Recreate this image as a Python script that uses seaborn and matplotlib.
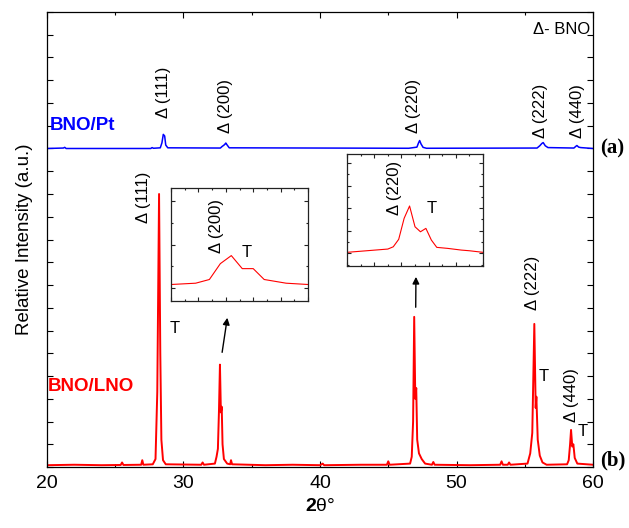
from __future__ import annotations

import matplotlib

matplotlib.use("Agg")

import matplotlib.pyplot as plt
import pandas as pd
import seaborn as sns
from matplotlib.ticker import MultipleLocator

OUTPUT_PATH = "out.png"

# main pattern, 2theta (deg) vs stacked intensity (arb. units)
LNO_TWO_THETA = [
    20.0, 22.0, 24.0, 25.4, 25.5, 25.6, 26.9, 26.98, 27.06,
    27.75, 27.95, 28.08, 28.21, 28.3, 28.38, 28.5, 28.7,
    31.3, 31.4, 31.5,
    32.3, 32.42, 32.52, 32.6, 32.67, 32.74, 32.8, 32.86, 32.96, 33.2, 33.42, 33.48, 33.56,
    36.0, 38.0, 40.0, 40.2, 40.3, 43.0, 44.9, 45.0, 45.1,
    46.6, 46.72, 46.82, 46.9, 46.98, 47.05, 47.12, 47.25, 47.45, 47.7,
    48.2, 48.3, 48.4, 51.0, 53.2, 53.3, 53.4, 53.75, 53.85, 53.95,
    55.2, 55.4, 55.55, 55.7, 55.8, 55.85, 55.95, 56.1, 56.3, 56.6,
    58.1, 58.22, 58.32, 58.39, 58.48, 58.56, 58.66, 58.85, 60.0,
]
LNO_INTENSITY = [
    0.08, 0.10, 0.08, 0.09, 0.20, 0.09, 0.10, 0.30, 0.10,
    0.12, 0.35, 3.3, 12.0, 5.0, 1.2, 0.3, 0.12,
    0.10, 0.20, 0.10,
    0.15, 0.45, 0.8, 2.5, 4.5, 2.4, 2.65, 1.0, 0.35, 0.15, 0.12, 0.30, 0.12,
    0.08, 0.10, 0.08, 0.15, 0.08, 0.10, 0.10, 0.25, 0.10,
    0.15, 0.45, 2.0, 6.6, 3.0, 3.47, 1.2, 0.6, 0.35, 0.15,
    0.10, 0.22, 0.10, 0.08, 0.10, 0.25, 0.10, 0.10, 0.20, 0.10,
    0.15, 0.6, 1.5, 6.29, 2.6, 3.09, 1.2, 0.5, 0.2, 0.1,
    0.12, 0.3, 1.0, 1.63, 0.9, 1.0, 0.4, 0.15, 0.10,
]

PT_TWO_THETA = [
    20.0, 21.2, 21.3, 21.4, 27.6, 27.7, 27.8, 28.3, 28.42, 28.52, 28.62, 28.7, 28.85,
    32.7, 32.85, 32.95, 33.05, 33.1, 33.2, 33.35,
    46.5, 47.1, 47.22, 47.3, 47.4, 47.55, 47.8,
    55.9, 56.1, 56.25, 56.35, 56.5, 56.7,
    58.6, 58.75, 58.82, 58.95, 59.1, 60.0,
]
PT_INTENSITY = [
    14.0, 14.02, 14.05, 14.0, 14.0, 14.04, 14.01, 14.03, 14.25, 14.62, 14.55, 14.15, 14.03,
    14.02, 14.1, 14.14, 14.2, 14.24, 14.15, 14.03,
    14.01, 14.06, 14.25, 14.35, 14.2, 14.05, 14.01,
    14.02, 14.12, 14.22, 14.26, 14.12, 14.04,
    14.02, 14.1, 14.13, 14.06, 14.04, 14.0,
]

# zoomed views of the LNO (200) and (220) reflections
INSET_200_TWO_THETA = [32.40, 32.49, 32.54, 32.58, 32.62, 32.66, 32.70, 32.74, 32.82, 32.90]
INSET_200_INTENSITY = [0.16, 0.22, 0.39, 1.12, 1.49, 0.89, 0.89, 0.39, 0.22, 0.16]

INSET_220_TWO_THETA = [
    46.60, 46.75, 46.77, 46.79, 46.81, 46.83, 46.85, 46.87,
    46.89, 46.91, 46.93, 46.97, 47.02, 47.05, 47.10,
]
INSET_220_INTENSITY = [
    0.09, 0.38, 0.58, 1.24, 3.10, 4.19, 2.35, 1.91,
    2.21, 1.18, 0.53, 0.44, 0.29, 0.23, 0.09,
]

PT_LABELS = ["Δ (111)", "Δ (200)", "Δ (220)", "Δ (222)", "Δ (440)"]
PT_LABEL_X = [28.57, 33.11, 46.86, 56.12, 58.83]
PT_LABEL_Y = [15.34, 14.68, 14.68, 14.46, 14.46]

LNO_LABELS = ["Δ (111)", "Δ (222)", "Δ (440)"]
LNO_LABEL_X = [27.05, 55.60, 58.39]
LNO_LABEL_Y = [10.73, 6.90, 1.98]

T_LABEL_X = [29.38, 56.41, 59.27]
T_LABEL_Y = [6.11, 3.96, 1.54]

RED = "#ff0000"
BLUE = "#0000ff"
SANS = ["Liberation Sans", "DejaVu Sans"]


def style_box(ax, xmajor, xminor, ymajor, yminor, size=4.0, color="black"):
    ax.xaxis.set_major_locator(MultipleLocator(xmajor))
    ax.xaxis.set_minor_locator(MultipleLocator(xminor))
    ax.yaxis.set_major_locator(MultipleLocator(ymajor))
    ax.yaxis.set_minor_locator(MultipleLocator(yminor))
    ax.tick_params(which="both", direction="in", top=True, right=True, width=0.8,
                   color=color, labelcolor="black")
    ax.tick_params(which="major", length=size)
    ax.tick_params(which="minor", length=size * 0.6)
    for spine in ax.spines.values():
        spine.set_linewidth(0.9)
        spine.set_color(color)


def draw_inset(fig, rect, xs, ys, xlim, ylim, ymajor, label_xy, t_xy, label):
    ax = fig.add_axes(rect)
    sns.lineplot(x=xs, y=ys, ax=ax, color=RED, linewidth=0.8, estimator=None, sort=False)
    ax.set_xlim(*xlim)
    ax.set_ylim(*ylim)
    style_box(ax, 0.1, 0.05, ymajor, ymajor / 2, size=3.0, color="#222222")
    ax.tick_params(labelbottom=False, labelleft=False)
    ax.set_xlabel("")
    ax.set_ylabel("")
    ax.text(*label_xy, label, rotation=90, ha="center", va="bottom", fontsize=12, family=SANS)
    ax.text(*t_xy, "T", ha="center", va="center", fontsize=12, family=SANS)
    return ax


def main() -> None:
    sns.set_theme(style="ticks")
    plt.rcParams["font.family"] = SANS
    plt.rcParams["text.color"] = "black"
    plt.rcParams["axes.labelcolor"] = "black"
    plt.rcParams["mathtext.fontset"] = "custom"
    plt.rcParams["mathtext.rm"] = "Liberation Sans"
    plt.rcParams["mathtext.bf"] = "Liberation Sans:bold"

    fig = plt.figure(figsize=(6.29, 5.28), dpi=100)
    ax = fig.add_axes([0.0747, 0.1155, 0.8681, 0.8618])

    lno = pd.DataFrame({"two_theta": LNO_TWO_THETA, "intensity": LNO_INTENSITY})
    pt = pd.DataFrame({"two_theta": PT_TWO_THETA, "intensity": PT_INTENSITY})
    sns.lineplot(data=lno, x="two_theta", y="intensity", ax=ax, color=RED,
                 linewidth=1.4, estimator=None, sort=False)
    sns.lineplot(data=pt, x="two_theta", y="intensity", ax=ax, color=BLUE,
                 linewidth=1.1, estimator=None, sort=False)

    ax.set_xlim(20, 60)
    ax.set_ylim(0, 20)
    style_box(ax, 10, 5, 1, 1)
    ax.tick_params(labelleft=False, labelsize=14, pad=6)
    ax.set_ylabel("Relative Intensity (a.u.)", fontsize=13.5, labelpad=10)
    ax.set_xlabel("$\\mathbf{2}\\mathrm{θ°}$", fontsize=14, labelpad=4)

    for label, x, y in zip(PT_LABELS, PT_LABEL_X, PT_LABEL_Y):
        ax.text(x, y, label, rotation=90, ha="center", va="bottom", fontsize=12)
    for label, x, y in zip(LNO_LABELS, LNO_LABEL_X, LNO_LABEL_Y):
        ax.text(x, y, label, rotation=90, ha="center", va="bottom", fontsize=12)
    for x, y in zip(T_LABEL_X, T_LABEL_Y):
        ax.text(x, y, "T", ha="center", va="center", fontsize=12)

    ax.text(59.78, 19.21, "Δ- BNO", ha="right", va="center", fontsize=12)
    ax.text(20.22, 15.03, "BNO/Pt", color=BLUE, fontweight="bold", fontsize=13.5,
            ha="left", va="center")
    ax.text(20.07, 3.52, "BNO/LNO", color=RED, fontweight="bold", fontsize=13.5,
            ha="left", va="center")

    arrow = dict(arrowstyle="-|>", color="black", lw=1.0, mutation_scale=10)
    ax.annotate("", xy=(33.24, 6.68), xytext=(32.80, 4.92), arrowprops=arrow)
    ax.annotate("", xy=(47.03, 8.48), xytext=(47.01, 6.90), arrowprops=arrow)

    fig.text(0.954, 0.7197, "(a)", ha="left", va="center", fontsize=15,
             fontweight="bold", family=["Liberation Serif", "DejaVu Serif"])
    fig.text(0.954, 0.1288, "(b)", ha="left", va="center", fontsize=15,
             fontweight="bold", family=["Liberation Serif", "DejaVu Serif"])

    draw_inset(fig, [0.2719, 0.4299, 0.2178, 0.2140],
               INSET_200_TWO_THETA, INSET_200_INTENSITY,
               (32.4, 32.9), (-0.6, 4.6), 2, (32.567, 1.60), (32.677, 1.65), "Δ (200)")
    draw_inset(fig, [0.5517, 0.4962, 0.2162, 0.2121],
               INSET_220_TWO_THETA, INSET_220_INTENSITY,
               (46.6, 47.1), (-1.12, 8.79), 2, (46.774, 3.39), (46.913, 4.01), "Δ (220)")

    fig.savefig(OUTPUT_PATH, dpi=100)
    plt.close(fig)


if __name__ == "__main__":
    main()
